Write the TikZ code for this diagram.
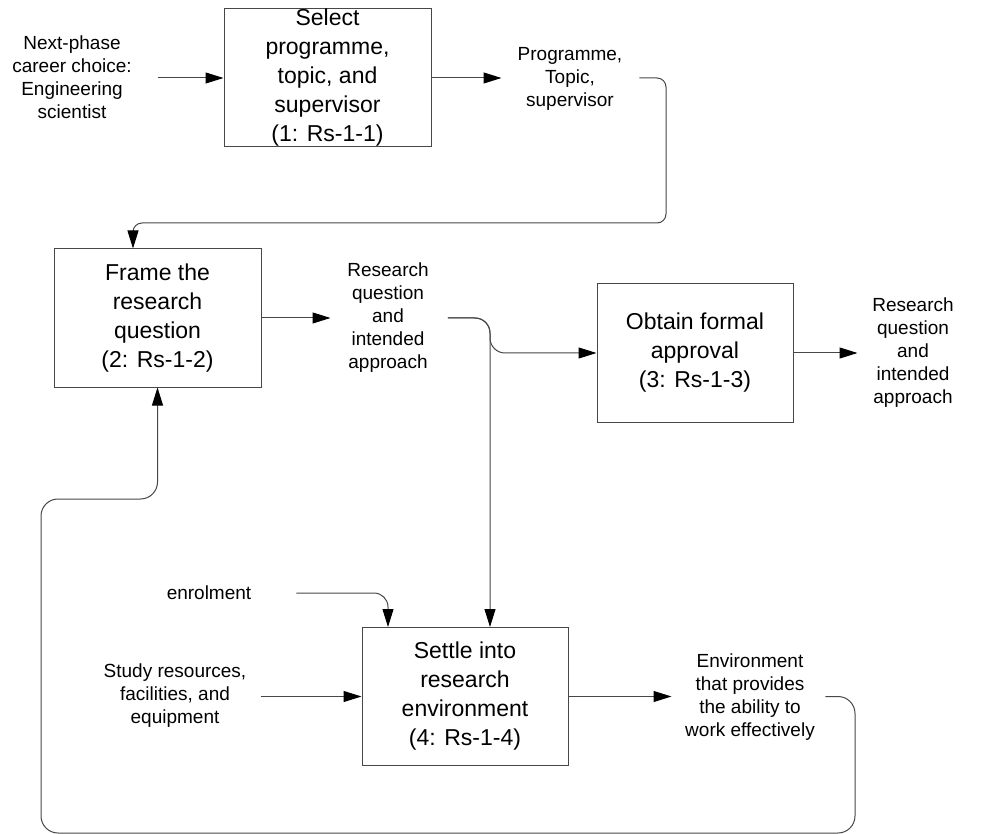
\documentclass[tikz,border=0pt]{standalone}
\usepackage{fontspec}
\setmainfont{Liberation Sans}
\usetikzlibrary{arrows.meta,calc}
\begin{document}
\begin{tikzpicture}[x=1pt,y=-1pt,
  procbox/.style={draw=black!72, line width=1pt, inner sep=0pt, minimum height=138pt},
  bigtxt/.style={inner sep=0pt, align=center, font=\fontsize{23}{29}\selectfont},
  smalltxt/.style={inner sep=0pt, align=center, font=\fontsize{19}{23}\selectfont},
  conn/.style={draw=black!72, line width=1pt},
  arr/.style={conn, -{Triangle[length=18pt,width=11pt,color=black]}}]
\useasboundingbox (0,0) rectangle (991,834);

% process boxes
\node[procbox, minimum width=207pt] (box1) at (327.5,78) {};
\node[procbox, minimum width=207pt] (box2) at (157.5,318) {};
\node[procbox, minimum width=196pt] (box3) at (695,353) {};
\node[procbox, minimum width=206pt] (box4) at (465,696.5) {};

\node[bigtxt] (t1) at (box1) {Select\\programme,\\topic, and\\supervisor\\(1: Rs-1-1)};
\node[bigtxt] (t2) at (box2) {Frame the\\research\\question\\(2: Rs-1-2)};
\node[bigtxt] (t3) at (box3) {Obtain formal\\approval\\(3: Rs-1-3)};
\node[bigtxt] (t4) at (box4) {Settle into\\research\\environment\\(4: Rs-1-4)};

% labels
\node[smalltxt] (lNext) at (72,77) {Next-phase\\career choice:\\Engineering\\scientist};
\node[smalltxt] (lProg) at (570,79) {Programme,\\Topic,\\supervisor};
\node[smalltxt] (lRQ1) at (388,318) {Research\\question\\and\\intended\\approach};
\node[smalltxt] (lRQ2) at (913,353) {Research\\question\\and\\intended\\approach};
\node[smalltxt] (lEnrol) at (209,593) {enrolment};
\node[smalltxt] (lStudy) at (175,696) {Study resources,\\facilities, and\\equipment};
\node[smalltxt] (lEnv) at (750,697) {Environment\\that provides\\the ability to\\work effectively};

% helper coordinates
\coordinate (b2in) at ([xshift=-24.5pt]box2.north);
\coordinate (b4in) at ([xshift=25pt]box4.north);
\coordinate (b4enr) at ([xshift=-77pt]box4.north);
\coordinate (c1) at (666,223);
\coordinate (lr) at (855,833);
\coordinate (ul) at (41,499);

% connectors
\draw[arr] ([xshift=-66pt]box1.west) -- (box1.west);
\draw[arr] (box1.east) -- ([xshift=70pt]box1.east);
\draw[arr, rounded corners=9pt] ([xshift=17pt]lProg.east |- box1.east) -| (c1) -| (b2in);
\draw[arr] (box2.east) -- ([xshift=69pt]box2.east);
\draw[arr, rounded corners=15pt] ([xshift=19pt]lRQ1.east |- box2.east) -| (b4in);
\draw[arr, rounded corners=15pt] ([xshift=19pt]lRQ1.east |- box2.east) -| (b4in |- box3.west) -- (box3.west);
\draw[arr] (box3.east) -- ([xshift=64pt]box3.east);
\draw[arr, rounded corners=14pt] ([xshift=45pt]lEnrol.east) -| (b4enr);
\draw[arr] ([xshift=14.5pt]lStudy.east |- box4.west) -- (box4.west);
\draw[arr] (box4.east) -- ([xshift=103pt]box4.east);
\draw[arr, rounded corners=17pt] ([xshift=10.5pt]lEnv.east |- box4.east) -| (lr) -| (ul) -| (box2.south);
\end{tikzpicture}
\end{document}
